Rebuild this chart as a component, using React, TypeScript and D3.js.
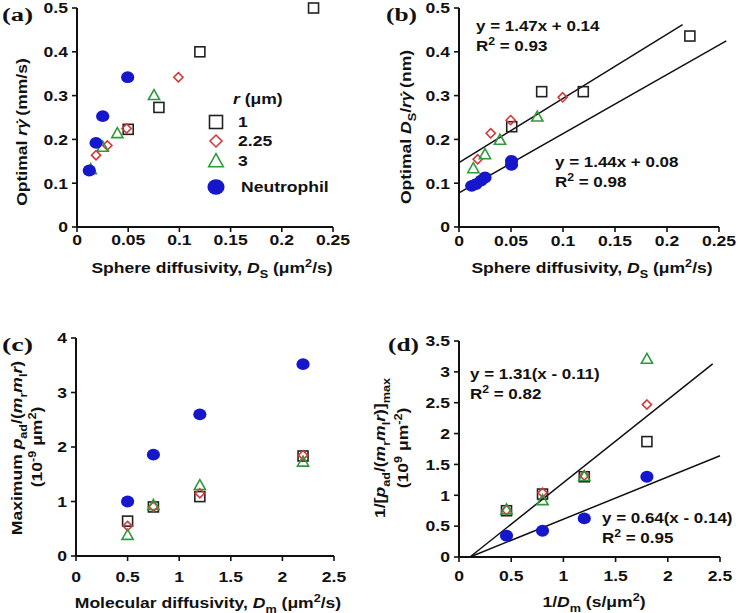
import React from 'react';
import * as d3 from 'd3';

const FONT = "'Liberation Sans', Arial, Helvetica, sans-serif";
const SX = 1.17; // horizontal stretch of the lettering in the reference

// ---------- Panel (a): optimal r*gamma vs sphere diffusivity ----------
const aSquares = [[0.05, 0.223], [0.08, 0.273], [0.12, 0.4], [0.231, 0.5]];
const aDiamonds = [[0.0186, 0.164], [0.0296, 0.186], [0.0485, 0.225], [0.099, 0.342]];
const aTriangles = [[0.0134, 0.132], [0.0251, 0.183], [0.0394, 0.214], [0.0752, 0.301]];
const aCircles = [[0.012, 0.129], [0.0186, 0.192], [0.0251, 0.253], [0.0495, 0.342]];
const aXTicks = [0, 0.05, 0.1, 0.15, 0.2, 0.25];
const aYTicks = [0, 0.1, 0.2, 0.3, 0.4, 0.5];
const legendLabels = ['1', '2.25', '3', 'Neutrophil'];

// ---------- Panel (b): optimal Ds/r*gamma vs sphere diffusivity ----------
const bSquares = [[0.0507, 0.229], [0.0795, 0.309], [0.1195, 0.309], [0.222, 0.436]];
const bDiamonds = [[0.018, 0.1545], [0.0305, 0.214], [0.0497, 0.244], [0.0997, 0.296]];
const bTriangles = [[0.0138, 0.134], [0.025, 0.166], [0.0394, 0.199], [0.0753, 0.252]];
const bCircles = [[0.0122, 0.094], [0.0164, 0.098], [0.0212, 0.106], [0.025, 0.113], [0.0505, 0.142], [0.0505, 0.151]];
const bFitUpper = [[0, 0.147], [0.215, 0.462]];
const bFitLower = [[0, 0.078], [0.257, 0.425]];
const bXTicks = [0, 0.05, 0.1, 0.15, 0.2, 0.25];
const bYTicks = [0, 0.1, 0.2, 0.3, 0.4, 0.5];

// ---------- Panel (c): maximum p_ad/(mr ml r) vs molecular diffusivity ----------
const cSquares = [[0.5, 0.64], [0.75, 0.9], [1.2, 1.09], [2.2, 1.835]];
const cDiamonds = [[0.5, 0.55], [0.75, 0.905], [1.2, 1.15], [2.2, 1.85]];
const cTriangles = [[0.5, 0.385], [0.75, 0.935], [1.2, 1.3], [2.2, 1.73]];
const cCircles = [[0.5, 1.0], [0.75, 1.86], [1.2, 2.6], [2.2, 3.52]];
const cXTicks = [0, 0.5, 1, 1.5, 2, 2.5];
const cYTicks = [0, 1, 2, 3, 4];

// ---------- Panel (d): 1/[p_ad/(mr ml r)]max vs 1/Dm ----------
const dSquares = [[0.455, 0.75], [0.8, 1.02], [1.2, 1.3], [1.8, 1.87]];
const dDiamonds = [[0.455, 0.76], [0.8, 1.04], [1.2, 1.32], [1.8, 2.47]];
const dTriangles = [[0.455, 0.77], [0.8, 0.92], [1.2, 1.31], [1.8, 3.21]];
const dCircles = [[0.455, 0.345], [0.8, 0.425], [1.2, 0.625], [1.8, 1.3]];
const dFitUpper = [[0.105, 0], [2.43, 3.13]];
const dFitLower = [[0.105, 0], [2.5, 1.64]];
const dXTicks = [0, 0.5, 1, 1.5, 2, 2.5];
const dYTicks = [0, 0.5, 1, 1.5, 2, 2.5, 3, 3.5];

// ---------- styles ----------
const C_SQ = '#222222';
const C_DI = '#d23a3a';
const C_TR = '#2e9a3a';
const C_CI = '#1616cc';

type Seg = { t: string; i?: boolean; sub?: boolean; sup?: boolean; dx?: number };

function Rich({
  segs,
  x,
  y,
  anchor = 'start',
  size = 15,
  rot = false,
}: {
  segs: Seg[];
  x: number;
  y: number;
  anchor?: string;
  size?: number;
  rot?: boolean;
}) {
  let shift = 0;
  return (
    <g transform={`translate(${x},${y})${rot ? ' rotate(-90)' : ''} scale(${SX},1)`}>
      <text x={0} y={0} textAnchor={anchor} fontFamily={FONT} fontWeight="bold" fontSize={size} fill="#111">
        {segs.map((s, k) => {
          const target = s.sub ? size * 0.3 : s.sup ? -size * 0.4 : 0;
          const dy = target - shift;
          shift = target;
          return (
            <tspan key={k} dx={s.dx} dy={dy} fontStyle={s.i ? 'italic' : 'normal'} fontSize={s.sub || s.sup ? size * 0.72 : size}>
              {s.t}
            </tspan>
          );
        })}
      </text>
    </g>
  );
}

// r gamma-dot, with the dot placed over the gamma
const rGammaDot: Seg[] = [
  { t: 'rγ', i: true },
  { t: '˙', i: true, dx: -6.2 },
  { t: '', dx: 1.2 },
];

function Marker({ type, x, y, big = false }: { type: string; x: number; y: number; big?: boolean }) {
  const k = big ? 1.3 : 1;
  if (type === 'square') {
    const h = 5 * k;
    return <rect x={x - h} y={y - h} width={2 * h} height={2 * h} fill="none" stroke={C_SQ} strokeWidth={1.6} />;
  }
  if (type === 'diamond') {
    const h = 4.6 * k;
    return <path d={`M${x},${y - h}L${x + h},${y}L${x},${y + h}L${x - h},${y}Z`} fill="none" stroke={C_DI} strokeWidth={1.6} />;
  }
  if (type === 'triangle') {
    const w = 5.6 * k;
    return <path d={`M${x},${y - 5.6 * k}L${x + w},${y + 4.4 * k}L${x - w},${y + 4.4 * k}Z`} fill="none" stroke={C_TR} strokeWidth={1.6} />;
  }
  return <ellipse cx={x} cy={y} rx={6.6 * k} ry={5.9 * k} fill={C_CI} />;
}

type PanelProps = {
  x: d3.ScaleLinear<number, number>;
  y: d3.ScaleLinear<number, number>;
  xTicks: number[];
  yTicks: number[];
  xLabelOffset: number;
  series: { type: string; data: number[][] }[];
  fits?: number[][][];
};

function Panel({ x, y, xTicks, yTicks, xLabelOffset, series, fits = [] }: PanelProps) {
  const [x0, x1] = x.range();
  const [y0, y1] = y.range();
  const line = d3.line<number[]>().x((d) => x(d[0])).y((d) => y(d[1]));
  return (
    <g>
      {fits.map((f, i) => (
        <path key={'f' + i} d={line(f) || ''} stroke="#111" strokeWidth={1.5} fill="none" />
      ))}
      <line x1={x0} x2={x1} y1={y0} y2={y0} stroke="#111" strokeWidth={2} />
      <line x1={x0} x2={x0} y1={y0} y2={y1} stroke="#111" strokeWidth={2} />
      {xTicks.map((t) => (
        <g key={'x' + t}>
          <line x1={x(t)} x2={x(t)} y1={y0} y2={y0 + 5} stroke="#111" strokeWidth={1.6} />
          <Rich segs={[{ t: String(t) }]} x={x(t)} y={y0 + xLabelOffset + 5} anchor="middle" />
        </g>
      ))}
      {yTicks.map((t) => (
        <g key={'y' + t}>
          <line x1={x0 - 5} x2={x0} y1={y(t)} y2={y(t)} stroke="#111" strokeWidth={1.6} />
          <Rich segs={[{ t: String(t) }]} x={x0 - 9} y={y(t) + 5.3} anchor="end" />
        </g>
      ))}
      {series.map((s, i) => (
        <g key={'s' + i}>
          {s.data.map((d, j) => (
            <Marker key={j} type={s.type} x={x(d[0])} y={y(d[1])} />
          ))}
        </g>
      ))}
    </g>
  );
}

const PanelLabel = ({ t, x, y }: { t: string; x: number; y: number }) => (
  <text x={x} y={y} fontFamily="'Liberation Serif', 'Times New Roman', serif" fontWeight="bold" fontSize={18} fill="#111" textLength={31} lengthAdjust="spacingAndGlyphs">
    {t}
  </text>
);

export default function App() {
  const ax = d3.scaleLinear().domain([0, 0.25]).range([77, 333]);
  const ay = d3.scaleLinear().domain([0, 0.5]).range([227, 8]);
  const bx = d3.scaleLinear().domain([0, 0.25]).range([459, 719]);
  const by = d3.scaleLinear().domain([0, 0.5]).range([227, 8]);
  const cx = d3.scaleLinear().domain([0, 2.5]).range([76, 334]);
  const cy = d3.scaleLinear().domain([0, 4]).range([556, 338]);
  const dx = d3.scaleLinear().domain([0, 2.5]).range([459, 720]);
  const dy = d3.scaleLinear().domain([0, 3.5]).range([557, 341]);

  const mk = (sq: number[][], di: number[][], tr: number[][], ci: number[][]) => [
    { type: 'square', data: sq },
    { type: 'diamond', data: di },
    { type: 'triangle', data: tr },
    { type: 'circle', data: ci },
  ];

  const legendTypes = ['square', 'diamond', 'triangle', 'circle'];
  const legendYs = [122, 141, 161, 187];

  const dsTitle: Seg[] = [
    { t: 'Sphere diffusivity, ' },
    { t: 'D', i: true },
    { t: 'S', sub: true },
    { t: ' (μm' },
    { t: '2', sup: true },
    { t: '/s)' },
  ];

  return (
    <svg width={741} height={613} style={{ position: 'absolute', left: 0, top: 0, background: '#fff' }}>
      <rect width={741} height={613} fill="#fff" />
      {/* (a) */}
      <PanelLabel t="(a)" x={2} y={21} />
      <Panel x={ax} y={ay} xTicks={aXTicks} yTicks={aYTicks} xLabelOffset={13} series={mk(aSquares, aDiamonds, aTriangles, aCircles)} />
      <Rich segs={dsTitle} x={212} y={273} anchor="middle" />
      <Rich segs={[{ t: 'Optimal ' }, ...rGammaDot, { t: ' (mm/s)' }]} x={27} y={132} anchor="middle" rot />
      <Rich segs={[{ t: 'r', i: true }, { t: ' (μm)' }]} x={233} y={104} />
      {legendTypes.map((t, i) => (
        <g key={t}>
          <Marker type={t} x={216} y={legendYs[i]} big />
          <Rich segs={[{ t: legendLabels[i] }]} x={i === 3 ? 241 : 238} y={legendYs[i] + 5.3} />
        </g>
      ))}

      {/* (b) */}
      <PanelLabel t="(b)" x={386} y={21} />
      <Panel
        x={bx}
        y={by}
        xTicks={bXTicks}
        yTicks={bYTicks}
        xLabelOffset={14}
        series={mk(bSquares, bDiamonds, bTriangles, bCircles)}
        fits={[bFitUpper, bFitLower]}
      />
      <Rich segs={dsTitle} x={592} y={273} anchor="middle" />
      <Rich
        segs={[{ t: 'Optimal ' }, { t: 'D', i: true }, { t: 'S', sub: true }, { t: '/' }, ...rGammaDot, { t: ' (nm)' }]}
        x={411}
        y={127}
        anchor="middle"
        rot
      />
      <Rich segs={[{ t: 'y = 1.47x + 0.14' }]} x={476} y={31} size={14.5} />
      <Rich segs={[{ t: 'R' }, { t: '2', sup: true }, { t: ' = 0.93' }]} x={476} y={51} size={14.5} />
      <Rich segs={[{ t: 'y = 1.44x + 0.08' }]} x={555} y={167} size={14.5} />
      <Rich segs={[{ t: 'R' }, { t: '2', sup: true }, { t: ' = 0.98' }]} x={555} y={187} size={14.5} />

      {/* (c) */}
      <PanelLabel t="(c)" x={2} y={351} />
      <Panel x={cx} y={cy} xTicks={cXTicks} yTicks={cYTicks} xLabelOffset={21} series={mk(cSquares, cDiamonds, cTriangles, cCircles)} />
      <Rich
        segs={[{ t: 'Molecular diffusivity, ' }, { t: 'D', i: true }, { t: 'm', sub: true }, { t: ' (μm' }, { t: '2', sup: true }, { t: '/s)' }]}
        x={208}
        y={608}
        anchor="middle"
      />
      <Rich
        segs={[
          { t: 'Maximum ' },
          { t: 'p', i: true },
          { t: 'ad', sub: true },
          { t: '/(' },
          { t: 'm', i: true },
          { t: 'r', sub: true },
          { t: 'm', i: true },
          { t: 'l', sub: true },
          { t: 'r', i: true },
          { t: ')' },
        ]}
        x={22}
        y={448}
        anchor="middle"
        rot
      />
      <Rich
        segs={[{ t: '(10' }, { t: '-9', sup: true }, { t: ' μm' }, { t: '2', sup: true }, { t: ')' }]}
        x={42}
        y={447}
        anchor="middle"
        rot
      />

      {/* (d) */}
      <PanelLabel t="(d)" x={388} y={351} />
      <Panel
        x={dx}
        y={dy}
        xTicks={dXTicks}
        yTicks={dYTicks}
        xLabelOffset={19}
        series={mk(dSquares, dDiamonds, dTriangles, dCircles)}
        fits={[dFitUpper, dFitLower]}
      />
      <Rich
        segs={[{ t: '1/' }, { t: 'D', i: true }, { t: 'm', sub: true }, { t: ' (s/μm' }, { t: '2', sup: true }, { t: ')' }]}
        x={594}
        y={607}
        anchor="middle"
      />
      <Rich
        segs={[
          { t: '1/[' },
          { t: 'p', i: true },
          { t: 'ad', sub: true },
          { t: '/(' },
          { t: 'm', i: true },
          { t: 'r', sub: true },
          { t: 'm', i: true },
          { t: 'l', sub: true },
          { t: 'r', i: true },
          { t: ')]' },
          { t: 'max', sub: true },
        ]}
        x={385}
        y={448}
        anchor="middle"
        rot
      />
      <Rich
        segs={[{ t: '(10' }, { t: '9', sup: true }, { t: ' μm' }, { t: '-2', sup: true }, { t: ')' }]}
        x={408}
        y={448}
        anchor="middle"
        rot
      />
      <Rich segs={[{ t: 'y = 1.31(x - 0.11)' }]} x={470} y={379} size={14.5} />
      <Rich segs={[{ t: 'R' }, { t: '2', sup: true }, { t: ' = 0.82' }]} x={470} y={399} size={14.5} />
      <Rich segs={[{ t: 'y = 0.64(x - 0.14)' }]} x={602} y={523} size={14.5} />
      <Rich segs={[{ t: 'R' }, { t: '2', sup: true }, { t: ' = 0.95' }]} x={602} y={543} size={14.5} />
    </svg>
  );
}
